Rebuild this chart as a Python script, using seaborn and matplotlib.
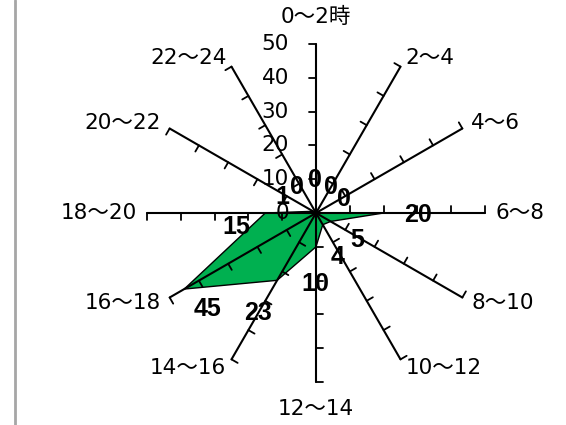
import numpy as np
import pandas as pd
import seaborn as sns
import matplotlib.pyplot as plt

#--chart data--#
categories = ['0～2時', '2～4', '4～6', '6～8', '8～10', '10～12',
              '12～14', '14～16', '16～18', '18～20', '20～22', '22～24']
values = [0, 0, 0, 20, 5, 4, 10, 23, 45, 15, 1, 0]
rticks = [0, 10, 20, 30, 40, 50]
# where Excel put each data label, nudged from its point (pixels)
label_offsets = [(-1, 33), (15, 26), (28, 14), (34, -2), (27, -19), (15, -32),
                 (-1, -37), (-19, -33), (23, -20), (-29, -14), (-31, 14), (-19, 26)]

sns.set_theme(style='white')
plt.rcParams['font.family'] = ['DejaVu Sans', 'Noto Sans CJK JP']

rmax = rticks[-1]
n = len(categories)
theta = np.arange(n) * 2 * np.pi / n
dx, dy = np.sin(theta), np.cos(theta)

fig = plt.figure(figsize=(5.66, 4.25), dpi=100)
ax = fig.add_axes([0, 0, 1, 1])
scale = 3.38  # pixels per unit
ax.set_xlim(-316 / scale, 250 / scale)
ax.set_ylim(-212 / scale, 213 / scale)
ax.axis('off')

#--filled series--#
x = np.array(values) * dx
y = np.array(values) * dy
ax.fill(x, y, color='#00B050', lw=0, zorder=1)
df = pd.DataFrame({'x': np.append(x, x[0]), 'y': np.append(y, y[0])})
sns.lineplot(data=df, x='x', y='y', sort=False, estimator=None,
             color='black', lw=1.0, ax=ax, zorder=2)

#--spokes with tick marks--#
tick = 2.1
for i in range(n):
    ax.plot([0, rmax * dx[i]], [0, rmax * dy[i]], color='black', lw=1.5, zorder=3)
    px, py = -dy[i], dx[i]
    for r in rticks[1:]:
        ax.plot([r * dx[i], r * dx[i] + tick * px], [r * dy[i], r * dy[i] + tick * py],
                color='black', lw=1.3, zorder=3)

#--radial axis labels--#
for r in rticks:
    ax.text(-8.0, r, str(r), ha='right', va='center', fontsize=15.5, color='black')

#--category labels--#
for i, cat in enumerate(categories):
    if abs(dx[i]) < 1e-6:
        ha, va, rr = 'center', ('bottom' if dy[i] > 0 else 'top'), 55
    else:
        ha, va, rr = ('left' if dx[i] > 0 else 'right'), 'center', 53
    ax.text(rr * dx[i], rr * dy[i], cat, ha=ha, va=va, fontsize=15.5, color='black')

#--data labels--#
for i, v in enumerate(values):
    ax.annotate(str(v), (x[i], y[i]), xytext=label_offsets[i], textcoords='offset pixels',
                ha='center', va='center', fontsize=18, fontweight='bold',
                family=['Liberation Sans', 'DejaVu Sans'], color='black', zorder=4)

#--left border of the chart area--#
ax.axvline(-(316 - 15) / scale, color='#A6A6A6', lw=2)

fig.savefig('out.png', dpi=100)
